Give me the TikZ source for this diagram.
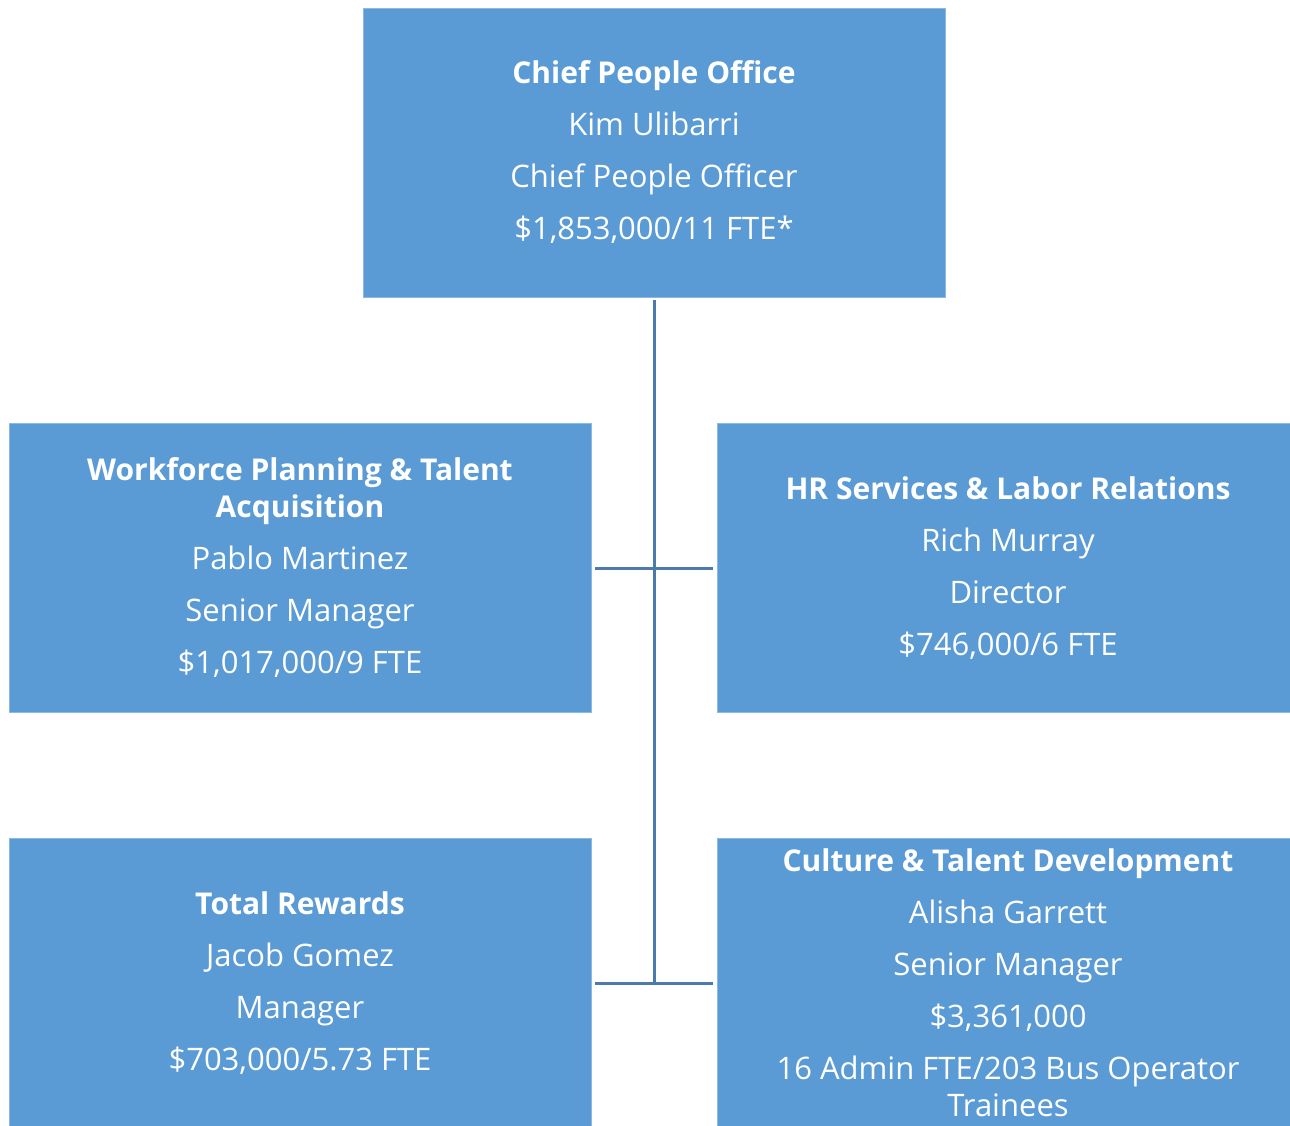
\documentclass[tikz,border=0pt]{standalone}
\usepackage{fontspec}
\setmainfont{Open Sans}
\definecolor{boxblue}{HTML}{5B9BD5}
\definecolor{linkblue}{HTML}{4A7BAA}
\newcommand{\gap}{\\[7.5pt]}
\newcommand{\unittitle}[1]{{\fontsize{15}{18.5}\selectfont\bfseries #1}}
\begin{document}
\begin{tikzpicture}[x=0.5pt,y=-0.5pt,
    unit/.style={fill=boxblue, draw=boxblue!70!white, line width=0.4pt, text=white,
      align=center, inner sep=0pt, minimum width=291pt, minimum height=144.5pt,
      font=\fontsize{15.5}{18.5}\selectfont},
    link/.style={draw=linkblue, line width=1.5pt}]
  \useasboundingbox (0,0) rectangle (1290,1125);
  \node[unit] (cpo)  at (654,152.5) {\unittitle{Chief People Office}\gap Kim Ulibarri\gap Chief People Officer\gap \$1,853,000/11 FTE*};
  \node[unit] (wpta) at (300,568)   {\unittitle{Workforce Planning \& Talent}\\\unittitle{Acquisition}\gap Pablo Martinez\gap Senior Manager\gap \$1,017,000/9 FTE};
  \node[unit] (hrlr) at (1008,568)  {\unittitle{HR Services \& Labor Relations}\gap Rich Murray\gap Director\gap \$746,000/6 FTE};
  \node[unit] (rew)  at (300,983)   {\unittitle{Total Rewards}\gap Jacob Gomez\gap Manager\gap \$703,000/5.73 FTE};
  \node[unit] (ctd)  at (1008,983)  {\unittitle{Culture \& Talent Development}\gap Alisha Garrett\gap Senior Manager\gap \$3,361,000\gap 16 Admin FTE/203 Bus Operator\\Trainees};
  %
  \draw[link, shorten <=1.5pt] (cpo.south) -- (cpo.south |- rew.east);
  \foreach \l/\r in {wpta/hrlr, rew/ctd}
  {  \draw[link, shorten <=2pt, shorten >=2pt] (\l.east) -- (\r.west);
  }
\end{tikzpicture}
\end{document}
